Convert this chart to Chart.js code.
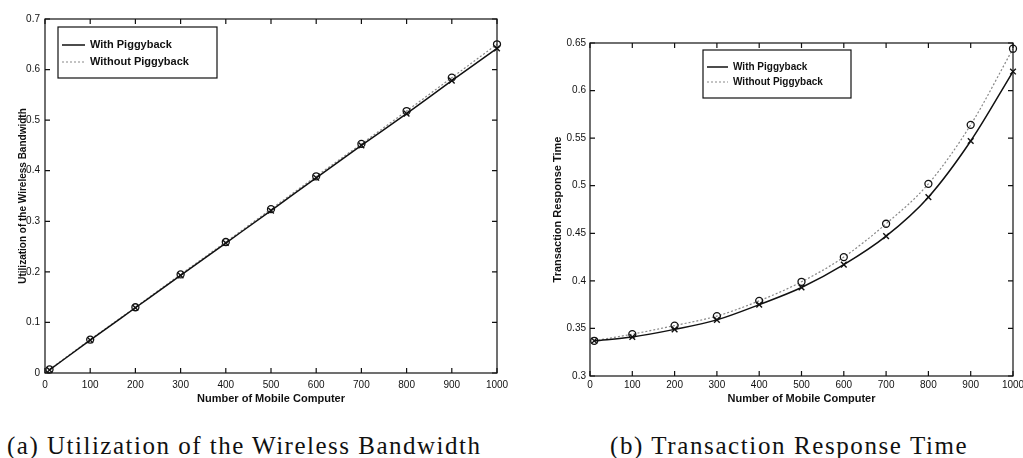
<!DOCTYPE html>
<html>
<head>
<meta charset="utf-8">
<script src="https://cdn.jsdelivr.net/npm/chart.js@4.4.0/dist/chart.umd.min.js"></script>
<style>
  body { margin: 0; background: #fff; width: 1023px; height: 458px; overflow: hidden; position: relative; }
  .box { position: absolute; top: 0; height: 410px; }
  #boxA { left: 0; width: 520px; }
  #boxB { left: 520px; width: 503px; }
  .caption { position: absolute; font-family: "Liberation Serif", serif; font-size: 25px; color: #111; white-space: nowrap; line-height: 25px; }
  #capA { left: 7px; top: 433px; letter-spacing: 1.5px; }
  #capB { left: 610px; top: 433px; letter-spacing: 1.6px; }
</style>
</head>
<body>
<div class="box" id="boxA"><canvas id="chartA"></canvas></div>
<div class="box" id="boxB"><canvas id="chartB"></canvas></div>
<div class="caption" id="capA">(a) Utilization of the Wireless Bandwidth</div>
<div class="caption" id="capB">(b) Transaction Response Time</div>

<script>
const mobileCount = [10, 100, 200, 300, 400, 500, 600, 700, 800, 900, 1000];

// (a) utilization of the wireless bandwidth
const utilWith    = [0.006, 0.065, 0.129, 0.193, 0.257, 0.321, 0.386, 0.450, 0.513, 0.578, 0.642];
const utilWithout = [0.007, 0.066, 0.130, 0.195, 0.259, 0.324, 0.389, 0.453, 0.518, 0.584, 0.650];

// (b) transaction response time
const respWith    = [0.337, 0.341, 0.349, 0.359, 0.375, 0.393, 0.417, 0.447, 0.488, 0.547, 0.620];
const respWithout = [0.337, 0.344, 0.353, 0.363, 0.379, 0.399, 0.425, 0.460, 0.502, 0.564, 0.644];

const xTicks = [0, 100, 200, 300, 400, 500, 600, 700, 800, 900, 1000];
const seriesNames = ['With Piggyback', 'Without Piggyback'];

const toPoints = ys => mobileCount.map((x, i) => ({ x: x, y: ys[i] }));

// matlab-like box with ticks inside, plus the boxed legend
const matlabFrame = {
    id: 'matlabFrame',
    afterDraw(chart, args, opts) {
        const { ctx, chartArea: a, scales } = chart;
        ctx.save();
        ctx.strokeStyle = '#111';
        ctx.lineWidth = 1.2;
        ctx.strokeRect(a.left, a.top, a.right - a.left, a.bottom - a.top);

        const len = 5;
        ctx.beginPath();
        scales.x.ticks.forEach(t => {
            const px = scales.x.getPixelForValue(t.value);
            ctx.moveTo(px, a.bottom); ctx.lineTo(px, a.bottom - len);
            ctx.moveTo(px, a.top); ctx.lineTo(px, a.top + len);
        });
        scales.y.ticks.forEach(t => {
            const py = scales.y.getPixelForValue(t.value);
            ctx.moveTo(a.left, py); ctx.lineTo(a.left + len, py);
            ctx.moveTo(a.right, py); ctx.lineTo(a.right - len, py);
        });
        ctx.stroke();

        // legend
        const lx = a.left + opts.dx, ly = a.top + opts.dy;
        ctx.fillStyle = '#fff';
        ctx.fillRect(lx, ly, opts.w, opts.h);
        ctx.lineWidth = 1.2;
        ctx.strokeStyle = '#111';
        ctx.strokeRect(lx, ly, opts.w, opts.h);
        ctx.font = 'bold ' + opts.fontSize + 'px "Liberation Sans", Arial, sans-serif';
        ctx.textBaseline = 'middle';
        chart.data.datasets.forEach((ds, i) => {
            const ry = ly + opts.rows[i];
            ctx.beginPath();
            ctx.strokeStyle = ds.borderColor;
            ctx.lineWidth = ds.borderWidth;
            ctx.setLineDash(ds.borderDash || []);
            ctx.moveTo(lx + 4, ry);
            ctx.lineTo(lx + opts.sample, ry);
            ctx.stroke();
            ctx.setLineDash([]);
            ctx.fillStyle = '#111';
            ctx.fillText(ds.label, lx + opts.sample + 5, ry);
        });
        ctx.restore();
    }
};

function makeChart(id, withData, withoutData, cfg) {
    const ctx = document.getElementById(id).getContext('2d');
    return new Chart(ctx, {
        type: 'line',
        data: {
            datasets: [{
                label: seriesNames[0],
                data: toPoints(withData),
                borderColor: '#111',
                borderWidth: 1.5,
                pointStyle: 'crossRot',
                pointRadius: 4,
                pointBorderWidth: 1.4,
                pointBorderColor: '#111',
                cubicInterpolationMode: 'monotone',
                clip: false
            }, {
                label: seriesNames[1],
                data: toPoints(withoutData),
                borderColor: '#888',
                borderWidth: 1.2,
                borderDash: [2, 2],
                pointStyle: 'circle',
                pointRadius: 3.5,
                pointBorderWidth: 1.3,
                pointBorderColor: '#111',
                pointBackgroundColor: 'rgba(255,255,255,0)',
                cubicInterpolationMode: 'monotone',
                clip: false
            }]
        },
        options: {
            responsive: true,
            maintainAspectRatio: false,
            animation: false,
            layout: { padding: cfg.padding },
            plugins: {
                legend: { display: false },
                tooltip: { enabled: false },
                matlabFrame: cfg.legend
            },
            scales: {
                x: {
                    type: 'linear',
                    min: 0, max: 1000,
                    afterBuildTicks: s => { s.ticks = xTicks.map(v => ({ value: v })); },
                    afterFit: s => { s.height = cfg.xHeight; s.paddingLeft = 0; s.paddingRight = 0; },
                    grid: { display: false, drawTicks: false },
                    border: { display: false },
                    ticks: { color: '#111', padding: cfg.xPad, maxRotation: 0, callback: v => String(v),
                             font: { size: cfg.tickSize, family: '"Liberation Sans", Arial' } },
                    title: { display: true, text: 'Number of Mobile Computer', color: '#111', padding: 4,
                             font: { size: cfg.titleSize, weight: 'bold', family: '"Liberation Sans", Arial' } }
                },
                y: {
                    min: cfg.yMin, max: cfg.yMax,
                    afterBuildTicks: s => { s.ticks = cfg.yTicks.map(v => ({ value: v })); },
                    afterFit: s => { s.width = cfg.yWidth; s.paddingTop = 0; s.paddingBottom = 0; },
                    grid: { display: false, drawTicks: false },
                    border: { display: false },
                    ticks: { color: '#111', padding: cfg.yPad, callback: v => String(+v.toFixed(2)),
                             font: { size: cfg.tickSize, family: '"Liberation Sans", Arial' } },
                    title: { display: true, text: cfg.yTitle, color: '#111', padding: 4,
                             font: { size: cfg.yTitleSize, weight: 'bold', family: '"Liberation Sans", Arial' } }
                }
            }
        },
        plugins: [matlabFrame]
    });
}

const utilTicks = [0, 0.1, 0.2, 0.3, 0.4, 0.5, 0.6, 0.7];
const respTicks = [0.3, 0.35, 0.4, 0.45, 0.5, 0.55, 0.6, 0.65];

makeChart('chartA', utilWith, utilWithout, {
    padding: { left: 13, right: 23, top: 19, bottom: 0 },
    xHeight: 37, yWidth: 32, xPad: 6, yPad: 5,
    tickSize: 10, titleSize: 11, yTitleSize: 10,
    yMin: 0, yMax: 0.7, yTicks: utilTicks,
    yTitle: 'Utilization of the Wireless Bandwidth',
    legend: { dx: 13, dy: 8, w: 159, h: 51, sample: 27, rows: [18, 35], fontSize: 11 }
});

makeChart('chartB', respWith, respWithout, {
    padding: { left: 27, right: 10, top: 43, bottom: 0 },
    xHeight: 34, yWidth: 43, xPad: 3, yPad: 4,
    tickSize: 10, titleSize: 11, yTitleSize: 11,
    yMin: 0.3, yMax: 0.65, yTicks: respTicks,
    yTitle: 'Transaction Response Time',
    legend: { dx: 113, dy: 7, w: 148, h: 48, sample: 25, rows: [17, 32], fontSize: 10 }
});
</script>
</body>
</html>
